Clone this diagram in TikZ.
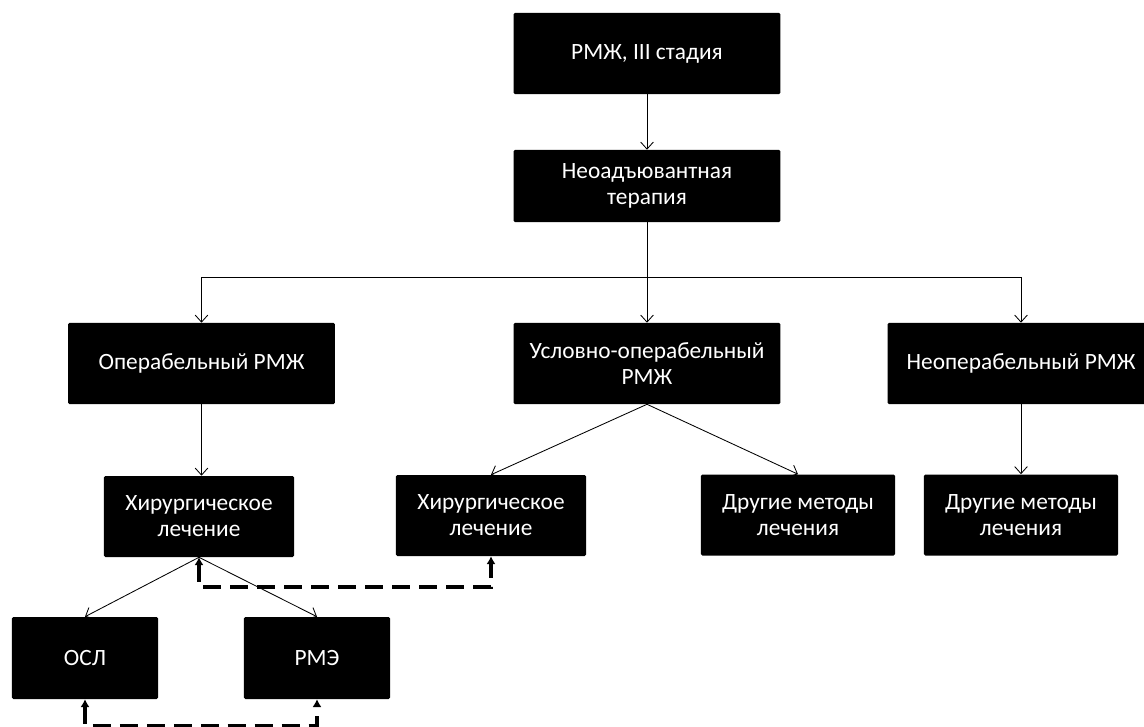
\documentclass[tikz,border=0pt]{standalone}
\usepackage{fontspec}
\setmainfont{Carlito}
\usetikzlibrary{arrows.meta}

\tikzset{
  blk/.style={fill=black, text=white, rounded corners=1pt, align=center, inner sep=0pt,
    font=\fontsize{16.6}{18.6}\selectfont},
  wide/.style={minimum width=6.67cm, minimum height=2.025cm},
  mid/.style={minimum width=4.75cm, minimum height=2.025cm},
  small/.style={minimum width=3.65cm, minimum height=2.05cm},
  conn/.style={-{Straight Barb[length=5pt,width=9pt]}, line width=0.6pt},
  dsh/.style={{Latex[length=5.5pt,width=6.5pt]}-{Latex[length=5.5pt,width=6.5pt]},
    line width=2.3pt, dash pattern=on 12.8pt off 6.4pt}
}

\begin{document}
\begin{tikzpicture}[x=0.025cm, y=-0.025cm]
    \useasboundingbox (0,0) rectangle (1144,726);
    \clip (0,0) rectangle (1144,726);

    % boxes
    \node[blk, wide, minimum height=2.025cm] (rmzh) at (647,53.5) {РМЖ, III стадия};
    \node[blk, wide, minimum height=1.8cm] (neo) at (647,186) {Неоадъювантная\\терапия};
    \node[blk, wide] (oper) at (201.5,363.5) {Операбельный РМЖ};
    \node[blk, wide] (cond) at (647,363.5) {Условно-операбельный\\РМЖ};
    \node[blk, wide] (inop) at (1021,363.5) {Неоперабельный РМЖ};
    \node[blk, mid] (hir1) at (199,516.5) {Хирургическое\\лечение};
    \node[blk, mid] (hir2) at (491,515.5) {Хирургическое\\лечение};
    \node[blk, mid, minimum width=4.85cm] (dr1) at (798,515) {Другие методы\\лечения};
    \node[blk, mid, minimum width=4.85cm] (dr2) at (1021,515) {Другие методы\\лечения};
    \node[blk, small] (osl) at (85,658) {ОСЛ};
    \node[blk, small] (rme) at (317,658) {РМЭ};

    \coordinate (split) at (647,277);
    \coordinate (dlev) at (0,587);
    \coordinate (blev) at (0,725.5);

    % connectors
    \draw[conn] (rmzh.south)--(neo.north);
    \draw[conn] (neo.south)--(cond.north);
    \draw[conn] (split)-|(oper.north);
    \draw[conn] (split)-|(inop.north);
    \draw[conn] (oper.south)--(oper.south |- hir1.north);
    \draw[conn] (cond.south)--(hir2.north);
    \draw[conn] (cond.south)--(dr1.north);
    \draw[conn] (inop.south)--(dr2.north);
    \draw[conn] (hir1.south)--(osl.north);
    \draw[conn] (hir1.south)--(rme.north);

    % dashed links
    \draw[dsh] (hir1.south)--(hir1.south |- dlev)-|(hir2.south);
    \draw[dsh] (osl.south)--(osl.south |- blev)-|(rme.south);
  \end{tikzpicture}
\end{document}
